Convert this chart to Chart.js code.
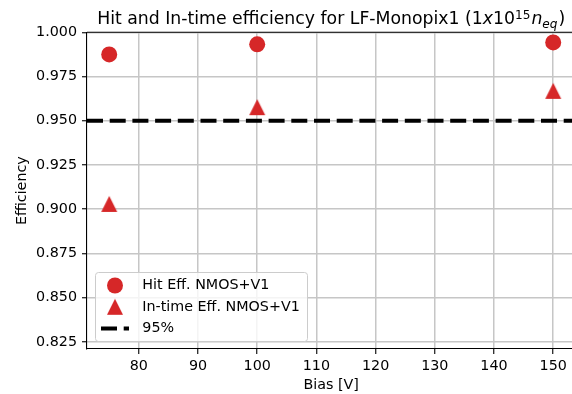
<!DOCTYPE html>
<html>
<head>
<meta charset="utf-8">
<script src="https://cdn.jsdelivr.net/npm/chart.js@4"></script>
<style>
  html, body { margin: 0; padding: 0; background: #fff; overflow: hidden; }
  #wrap { width: 572px; height: 394px; overflow: hidden; }
</style>
</head>
<body>
<div id="wrap"><canvas id="effChart" width="576" height="394"></canvas></div>
<script>
// bias scan points and measured efficiencies
const biasVoltages = [75, 100, 150];
const hitEff       = [0.9875, 0.9932, 0.9943];
const inTimeEff    = [0.9030, 0.9577, 0.9669];
const targetEff    = 0.95;

const xTicks = [80, 90, 100, 110, 120, 130, 140, 150];
const yTicks = [0.825, 0.850, 0.875, 0.900, 0.925, 0.950, 0.975, 1.000];
const xRange = [71.25, 153.75];
const yRange = [0.821, 1.0];

const RED  = '#d62728';
const FONT = 'DejaVu Sans';
const FS   = 14.3;  // tick / label / legend font size
const MS   = 16;    // marker size in px

// matplotlib style '^' marker: as wide as it is tall
function triangleMarker(size, color) {
  const c = document.createElement('canvas');
  c.width = c.height = size + 2;
  const g = c.getContext('2d');
  const m = (size + 2) / 2, h = size / 2;
  g.fillStyle = color;
  g.beginPath();
  g.moveTo(m, m - h);
  g.lineTo(m + h, m + h);
  g.lineTo(m - h, m + h);
  g.closePath();
  g.fill();
  return c;
}
const triImg = triangleMarker(MS, RED);

const pts = ys => biasVoltages.map((x, i) => ({ x, y: ys[i] }));

// — title with mathtext-like super/subscripts —
const titlePlugin = {
  id: 'mathTitle',
  afterDraw(chart) {
    const { ctx, chartArea: a } = chart;
    const big = 17.3, small = 12.1;
    const parts = [
      { t: 'Hit and In-time efficiency for LF-Monopix1 (', s: big, it: false, dy: 0 },
      { t: '1', s: big, it: false, dy: 0 },
      { t: 'x', s: big, it: true,  dy: 0 },
      { t: '10', s: big, it: false, dy: 0 },
      { t: '15', s: small, it: false, dy: -5 },
      { t: 'n', s: big, it: true, dy: 0, pad: 1 },
      { t: 'eq', s: small, it: true, dy: 3.5 },
      { t: ')', s: big, it: false, dy: 0, pad: 1 }
    ];
    ctx.save();
    ctx.fillStyle = '#000';
    ctx.textBaseline = 'alphabetic';
    let total = 0;
    parts.forEach(p => {
      ctx.font = `${p.it ? 'italic ' : ''}${p.s}px "${FONT}"`;
      p.w = ctx.measureText(p.t).width;
      total += p.w + (p.pad || 0);
    });
    let x = (a.left + a.right) / 2 - total / 2;
    const base = 24;
    parts.forEach(p => {
      x += p.pad || 0;
      ctx.font = `${p.it ? 'italic ' : ''}${p.s}px "${FONT}"`;
      ctx.fillText(p.t, x, base + p.dy);
      x += p.w;
    });
    ctx.restore();
  }
};

// — top spine + legend box in the lower left —
const framePlugin = {
  id: 'frameAndLegend',
  afterDraw(chart) {
    const { ctx, chartArea: a } = chart;
    ctx.save();
    ctx.strokeStyle = '#000';
    ctx.lineWidth = 1.1;
    ctx.beginPath();
    ctx.moveTo(a.left, a.top);
    ctx.lineTo(a.right, a.top);
    ctx.stroke();

    // legend frame
    const bx = 95.5, by = 272.5, bw = 212, bh = 69;
    ctx.beginPath();
    ctx.roundRect(bx, by, bw, bh, 3);
    ctx.fillStyle = 'rgba(255,255,255,0.8)';
    ctx.fill();
    ctx.strokeStyle = '#cccccc';
    ctx.lineWidth = 1;
    ctx.stroke();

    const mx = 115, tx = 142.3;
    const rows = [285.5, 306.8, 328.5];
    ctx.fillStyle = RED;
    ctx.beginPath();
    ctx.arc(mx, rows[0], MS / 2, 0, Math.PI * 2);
    ctx.fill();
    ctx.drawImage(triImg, mx - triImg.width / 2, rows[1] - triImg.height / 2);

    ctx.strokeStyle = '#000';
    ctx.lineWidth = 4.2;
    ctx.setLineDash([16, 6.7]);
    ctx.beginPath();
    ctx.moveTo(101, rows[2]);
    ctx.lineTo(129, rows[2]);
    ctx.stroke();
    ctx.setLineDash([]);

    ctx.fillStyle = '#000';
    ctx.font = `${FS}px "${FONT}"`;
    ctx.textBaseline = 'middle';
    ['Hit Eff. NMOS+V1', 'In-time Eff. NMOS+V1', '95%']
      .forEach((s, i) => ctx.fillText(s, tx, rows[i]));
    ctx.restore();
  }
};

Chart.defaults.font.family = FONT;
Chart.defaults.color = '#000';

new Chart(document.getElementById('effChart'), {
  type: 'scatter',
  data: {
    datasets: [
      {
        label: 'Hit Eff. NMOS+V1',
        data: pts(hitEff),
        pointStyle: 'circle',
        pointRadius: MS / 2,
        pointBackgroundColor: RED,
        pointBorderWidth: 0
      },
      {
        label: 'In-time Eff. NMOS+V1',
        data: pts(inTimeEff),
        pointStyle: triImg,
        pointRadius: MS / 2
      },
      {
        type: 'line',
        label: '95%',
        data: [{ x: xRange[0], y: targetEff }, { x: xRange[1], y: targetEff }],
        borderColor: '#000',
        borderWidth: 4.2,
        borderDash: [16, 6.7],
        borderCapStyle: 'butt',
        pointRadius: 0,
        fill: false
      }
    ]
  },
  options: {
    responsive: false,
    animation: false,
    layout: { autoPadding: false, padding: { top: 32.3, right: 0.6, left: 0, bottom: 0 } },
    plugins: { legend: { display: false }, tooltip: { enabled: false }, title: { display: false } },
    scales: {
      x: {
        type: 'linear',
        min: xRange[0], max: xRange[1],
        afterBuildTicks: s => { s.ticks = xTicks.map(v => ({ value: v })); },
        afterFit: s => { s.height = 45; s.paddingLeft = 0; s.paddingRight = 0; },
        grid: { color: '#c6c6c6', lineWidth: 1.5, tickColor: '#000', tickLength: 5, tickWidth: 1.1 },
        border: { color: '#000', width: 1.1 },
        ticks: { font: { size: FS }, padding: 4, maxRotation: 0 },
        title: { display: true, text: 'Bias [V]', font: { size: FS }, padding: { top: 0, bottom: 0 } }
      },
      y: {
        min: yRange[0], max: yRange[1],
        afterBuildTicks: s => { s.ticks = yTicks.map(v => ({ value: v })); },
        afterFit: s => { s.width = 87; s.paddingTop = 0; s.paddingBottom = 0; },
        grid: { color: '#c6c6c6', lineWidth: 1.5, tickColor: '#000', tickLength: 5, tickWidth: 1.1 },
        border: { color: '#000', width: 1.1 },
        ticks: { font: { size: FS }, padding: 5, callback: v => v.toFixed(3) },
        title: { display: true, text: 'Efficiency', font: { size: FS }, padding: { top: 14, bottom: 0 } }
      }
    }
  },
  plugins: [titlePlugin, framePlugin]
});
</script>
</body>
</html>
